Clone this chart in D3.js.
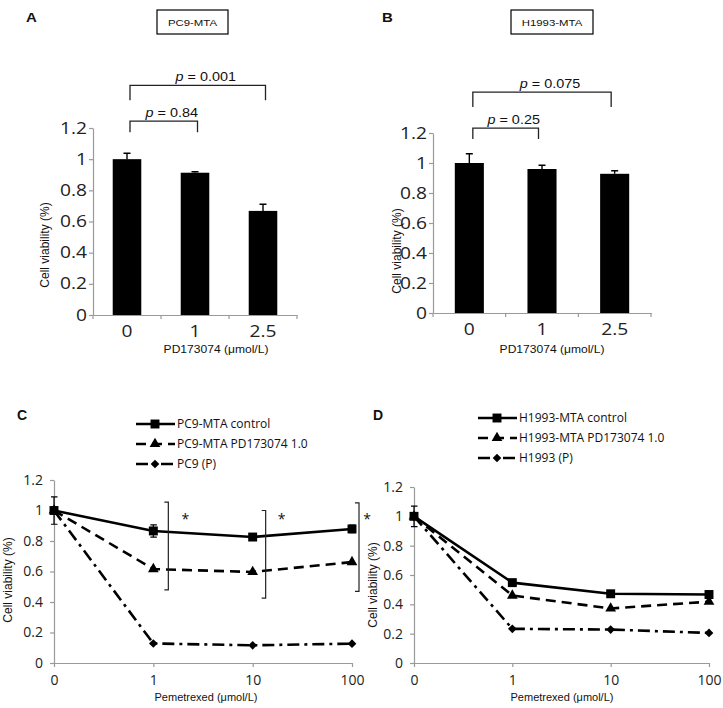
<!DOCTYPE html>
<html><head><meta charset="utf-8">
<script src="https://cdn.jsdelivr.net/npm/d3@7"></script>
<style>
body{margin:0;background:#fff}
svg{display:block}
</style></head><body>
<svg id="chart" width="723" height="708" font-family="Liberation Sans, Arial, sans-serif" fill="#111"></svg>
<script>
// ---------- data ----------
const barCats = ["0", "1", "2.5"];
const barA = [1.0, 0.913, 0.668];
const errA = [0.038, 0.006, 0.043];
const barB = [1.0, 0.96, 0.928];
const errB = [0.062, 0.025, 0.02];
const yTicks = [0, 0.2, 0.4, 0.6, 0.8, 1, 1.2];
const pA = [
  {from: "0", to: "1", top: 1.244, bottom: 1.173, label: "0.84"},
  {from: "0", to: "2.5", top: 1.474, bottom: 1.378, label: "0.001"}
];
const pB = [
  {from: "0", to: "1", top: 1.233, bottom: 1.16, label: "0.25"},
  {from: "0", to: "2.5", top: 1.473, bottom: 1.373, label: "0.075"}
];

const doses = ["0", "1", "10", "100"];
const cControl = [1.0, 0.866, 0.826, 0.879];
const cControlErr = [0.09, 0.04, 0.02, 0.025];
const cPD = [1.0, 0.616, 0.597, 0.662];
const cP = [1.0, 0.128, 0.116, 0.127];
const cSig = [
  {dose: "1", top: 1.055, bottom: 0.48},
  {dose: "10", top: 1.0, bottom: 0.425},
  {dose: "100", top: 1.05, bottom: 0.47}
];
const dControl = [1.0, 0.548, 0.472, 0.467];
const dControlErr = [0.07, 0.01, 0.01, 0.01];
const dPD = [1.0, 0.46, 0.372, 0.418];
const dP = [1.0, 0.233, 0.228, 0.205];
const cNames = ["PC9-MTA control", "PC9-MTA PD173074 1.0", "PC9 (P)"];
const dNames = ["H1993-MTA control", "H1993-MTA PD173074 1.0", "H1993 (P)"];

// ---------- drawing ----------
const svg = d3.select("#chart");
const AX = "#9a9a9a";
const S = 1.2; // horizontal stretch of the top panels' text
const fmt = d3.format("~g");
const NUMFONT = "'Open Sans', sans-serif";

function styleAxis(g) {
  g.attr("font-family", null).attr("font-size", null);
  g.select(".domain").attr("stroke", AX).attr("stroke-width", 1.2);
  g.selectAll(".tick line").attr("stroke", AX).attr("stroke-width", 1.2);
}

function barPanel(o) {
  const g = svg.append("g");
  const x = d3.scaleBand().domain(barCats).range([o.x0, o.x1]).padding(0);
  const y = d3.scaleLinear().domain([0, 1.2]).range([o.yBase, o.yTop]);
  const bw = x.bandwidth() * o.barFrac;
  const cx = c => x(c) + x.bandwidth() / 2;

  const ya = g.append("g").attr("transform", `translate(${o.x0},0)`)
    .call(d3.axisLeft(y).tickValues(yTicks).tickFormat(fmt).tickSize(4).tickSizeOuter(0).tickPadding(2));
  styleAxis(ya);
  ya.selectAll("text").attr("x", -6 / S).attr("transform", `scale(${S},1)`)
    .style("font-size", "16px").style("font-family", NUMFONT).attr("fill", "#222");

  const xa = g.append("g").attr("transform", `translate(0,${o.yBase})`)
    .call(d3.axisBottom(x).tickSize(0).tickSizeOuter(0).tickPadding(11));
  styleAxis(xa);
  xa.selectAll("text").attr("transform", `scale(${S},1)`)
    .style("font-size", "16px").style("font-family", NUMFONT).attr("fill", "#222");
  const edges = barCats.map(c => x(c)).concat([x.range()[1]]);
  g.selectAll(null).data(edges).join("line")
    .attr("x1", d => d).attr("x2", d => d)
    .attr("y1", o.yBase).attr("y2", o.yBase + 4)
    .attr("stroke", AX).attr("stroke-width", 1.2);

  g.selectAll(null).data(o.vals).join("rect")
    .attr("x", (d, i) => cx(barCats[i]) - bw / 2)
    .attr("y", d => y(d))
    .attr("width", bw)
    .attr("height", d => y(0) - y(d))
    .attr("fill", "#000");

  g.selectAll(null).data(o.vals).join("path")
    .attr("d", (d, i) => {
      const xc = cx(barCats[i]), yv = y(d), ye = y(d + o.errs[i]);
      return `M${xc},${yv}V${ye}M${xc - 3.5},${ye}H${xc + 3.5}`;
    })
    .attr("stroke", "#000").attr("stroke-width", 1.4).attr("fill", "none");

  o.pvals.forEach(p => {
    const xl = cx(p.from) + o.brL, xr = cx(p.to) + o.brR;
    g.append("path")
      .attr("d", `M${xl},${y(p.bottom)}V${y(p.top)}H${xr}V${y(p.bottom)}`)
      .attr("stroke", "#222").attr("stroke-width", 1.3).attr("fill", "none");
    const t = g.append("text")
      .attr("transform", `translate(${(xl + xr) / 2 + 8},${y(p.top) - 4}) scale(${S},1)`)
      .attr("text-anchor", "middle").attr("font-size", 12);
    t.append("tspan").attr("font-style", "italic").text("p");
    t.append("tspan").text(" = " + p.label);
  });

  g.append("text")
    .attr("transform", `translate(${o.xTitleX},353) scale(1.15,1)`)
    .attr("text-anchor", "middle").attr("font-size", 10.5)
    .text("PD173074 (\u03bcmol/L)");
  g.append("text")
    .attr("transform", `translate(${o.yTitleX},${o.yTitleY}) rotate(-90)`)
    .attr("text-anchor", "middle").attr("dy", "0.35em").attr("font-size", 12)
    .text("Cell viability (%)");

  g.append("rect").attr("x", o.box[0]).attr("y", 10).attr("width", o.box[1] - o.box[0]).attr("height", 24)
    .attr("fill", "none").attr("stroke", "#000").attr("stroke-width", 1.2);
  g.append("text")
    .attr("transform", `translate(${(o.box[0] + o.box[1]) / 2},25.5) scale(${S},1)`)
    .attr("text-anchor", "middle").attr("font-size", 9.5).text(o.title);

  g.append("text").attr("transform", `translate(${o.letterX},22) scale(${S},1)`)
    .attr("font-size", 12.5).attr("font-weight", "bold").text(o.letter);
}

function linePanel(o) {
  const g = svg.append("g");
  const x = d3.scalePoint().domain(doses).range([o.x0, o.x1]);
  const y = d3.scaleLinear().domain([0, 1.2]).range([663, o.yTop]);

  const ya = g.append("g").attr("transform", `translate(${o.x0},0)`)
    .call(d3.axisLeft(y).tickValues(yTicks).tickFormat(fmt).tickSize(4).tickSizeOuter(0).tickPadding(7));
  styleAxis(ya);
  ya.selectAll("text").style("font-size", "14px").style("font-family", NUMFONT).attr("fill", "#222");

  const xa = g.append("g").attr("transform", `translate(0,663)`)
    .call(d3.axisBottom(x).tickSize(4).tickSizeOuter(0).tickPadding(8));
  styleAxis(xa);
  xa.selectAll("text").style("font-size", "14px").style("font-family", NUMFONT).attr("fill", "#222");

  const line = d3.line().x((d, i) => x(doses[i])).y(d => y(d));
  const series = [
    {vals: o.p, dash: "12,5,3,5", sym: d3.symbolDiamond2, size: 48},
    {vals: o.pd, dash: "10,6", sym: d3.symbolTriangle, size: 50},
    {vals: o.ctrl, dash: null, sym: d3.symbolSquare, size: 80}
  ];

  g.selectAll(null).data(o.ctrl).join("path")
    .attr("d", (d, i) => {
      const xc = x(doses[i]), y1 = y(d + o.err[i]), y2 = y(d - o.err[i]);
      return `M${xc},${y1}V${y2}M${xc - 3},${y1}H${xc + 3.5}M${xc - 3},${y2}H${xc + 3.5}`;
    })
    .attr("stroke", "#000").attr("stroke-width", 1.2).attr("fill", "none");

  series.forEach(s => {
    g.append("path").datum(s.vals).attr("d", line)
      .attr("fill", "none").attr("stroke", "#000").attr("stroke-width", 2.6)
      .attr("stroke-dasharray", s.dash);
    g.selectAll(null).data(s.vals).join("path")
      .attr("transform", (d, i) => `translate(${x(doses[i])},${y(d)})`)
      .attr("d", d3.symbol().type(s.sym).size(s.size))
      .attr("fill", "#000");
  });

  if (o.sig) {
    o.sig.forEach((s, i) => {
      const xb = x(s.dose) + o.sigDx[i];
      g.append("path")
        .attr("d", `M${xb - 4},${y(s.top)}H${xb}V${y(s.bottom)}H${xb - 4}`)
        .attr("stroke", "#222").attr("stroke-width", 1.2).attr("fill", "none");
      g.append("text").attr("x", x(s.dose) + o.starDx[i]).attr("y", y(0.97) + 9)
        .attr("text-anchor", "middle").style("font-size", "14px").style("font-family", NUMFONT).text("*");
    });
  }

  const legSeries = [series[2], series[1], series[0]];
  legSeries.forEach((s, i) => {
    const ly = o.legY + i * 20;
    g.append("path").attr("d", `M${o.legX0},${ly}H${o.legX0 + 39}`)
      .attr("stroke", "#000").attr("stroke-width", 2.6).attr("stroke-dasharray", s.dash);
    g.append("path").attr("transform", `translate(${o.legX0 + 19},${ly})`)
      .attr("d", d3.symbol().type(s.sym).size(s.size)).attr("fill", "#000");
    g.append("text").attr("x", o.legText).attr("y", ly).attr("dy", "0.35em")
      .style("font-size", "12px").style("font-family", NUMFONT).text(o.names[i]);
  });

  g.append("text").attr("x", o.xTitleX).attr("y", 701).attr("text-anchor", "middle")
    .attr("font-size", 11).text("Pemetrexed (\u03bcmol/L)");
  g.append("text")
    .attr("transform", `translate(${o.yTitleX},${o.yTitleY}) rotate(-90)`)
    .attr("text-anchor", "middle").attr("dy", "0.35em").attr("font-size", 12)
    .text("Cell viability (%)");
  g.append("text").attr("x", o.letterX).attr("y", 420)
    .attr("font-size", 14).attr("font-weight", "bold").text(o.letter);
}

barPanel({x0: 93, x1: 297, yBase: 315, yTop: 128, barFrac: 0.42, vals: barA, errs: errA, pvals: pA,
  brL: 3, brR: 2.5, xTitleX: 216, yTitleX: 45, yTitleY: 245, box: [157, 228], title: "PC9-MTA",
  letter: "A", letterX: 26});
barPanel({x0: 433, x1: 651, yBase: 313, yTop: 133, barFrac: 0.4, vals: barB, errs: errB, pvals: pB,
  brL: 3.5, brR: -3.5, xTitleX: 552, yTitleX: 397, yTitleY: 251, box: [511, 593], title: "H1993-MTA",
  letter: "B", letterX: 382});

linePanel({x0: 54, x1: 352, yTop: 480, ctrl: cControl, err: cControlErr, pd: cPD, p: cP,
  sig: cSig, sigDx: [15, 13, 7], starDx: [32, 29, 15],
  legX0: 136, legY: 424, legText: 177, names: cNames,
  xTitleX: 206, yTitleX: 8, yTitleY: 580, letter: "C", letterX: 17});
linePanel({x0: 414, x1: 709, yTop: 487, ctrl: dControl, err: dControlErr, pd: dPD, p: dP,
  sig: null, legX0: 478, legY: 418, legText: 519, names: dNames,
  xTitleX: 562, yTitleX: 373, yTitleY: 585, letter: "D", letterX: 373});
</script>
</body></html>
